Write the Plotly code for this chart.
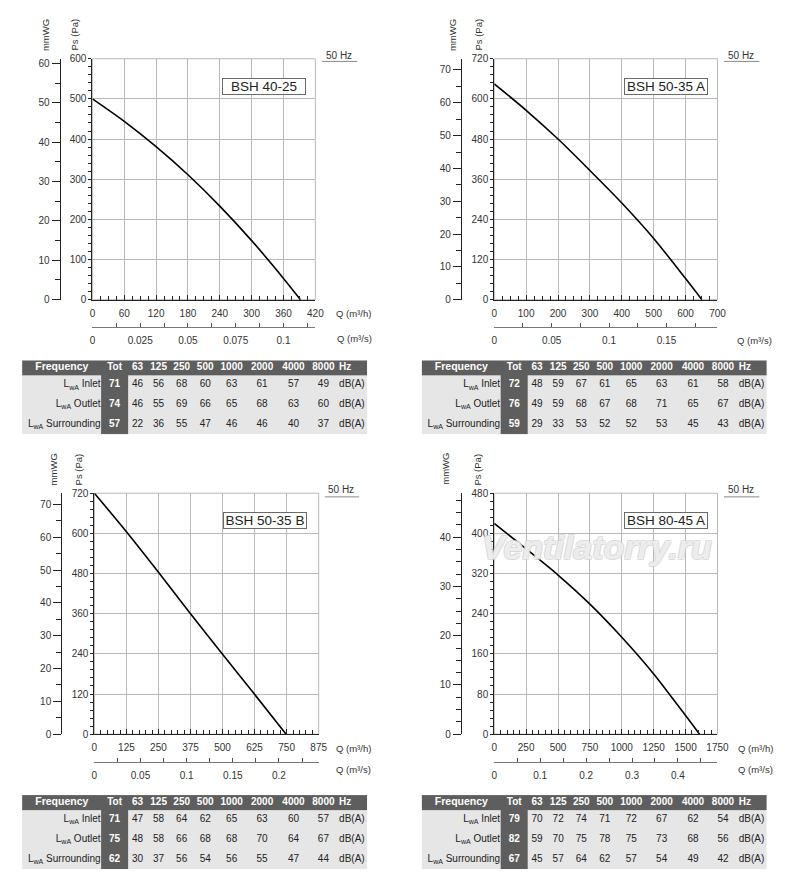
import plotly.graph_objects as go

# Fan curves: Q in m3/h, Ps in Pa
models = ["BSH 40-25", "BSH 50-35 A", "BSH 50-35 B", "BSH 80-45 A"]

q_40_25 = [0, 60, 120, 180, 240, 300, 360, 392]
ps_40_25 = [500, 444, 381, 311, 233, 147, 53, 0]

q_50_35a = [0, 100, 200, 300, 400, 500, 600, 651]
ps_50_35a = [645, 566, 480, 386, 289, 183, 63, 0]

q_50_35b = [0, 125, 250, 375, 500, 625, 748]
ps_50_35b = [720, 605, 484, 360, 239, 119, 0]

q_80_45a = [0, 250, 500, 750, 1000, 1250, 1500, 1609]
ps_80_45a = [420, 369, 317, 259, 193, 120, 37, 0]

# Sound power tables, dB(A)
bands = ["63", "125", "250", "500", "1000", "2000", "4000", "8000"]
row_names = ["L<sub>wA</sub> Inlet", "L<sub>wA</sub> Outlet", "L<sub>wA</sub> Surrounding"]

tot_40_25 = [71, 74, 57]
lwa_40_25 = [[46, 56, 68, 60, 63, 61, 57, 49],
             [46, 55, 69, 66, 65, 68, 63, 60],
             [22, 36, 55, 47, 46, 46, 40, 37]]

tot_50_35a = [72, 76, 59]
lwa_50_35a = [[48, 59, 67, 61, 65, 63, 61, 58],
              [49, 59, 68, 67, 68, 71, 65, 67],
              [29, 33, 53, 52, 52, 53, 45, 43]]

tot_50_35b = [71, 75, 62]
lwa_50_35b = [[47, 58, 64, 62, 65, 63, 60, 57],
              [48, 58, 66, 68, 68, 70, 64, 67],
              [30, 37, 56, 54, 56, 55, 47, 44]]

tot_80_45a = [79, 82, 67]
lwa_80_45a = [[70, 72, 74, 71, 72, 67, 62, 54],
              [59, 70, 75, 78, 75, 73, 68, 56],
              [45, 57, 64, 62, 57, 54, 49, 42]]

# Page geometry / styling. The page body keeps its default 8px margin,
# so the figure is a bit smaller than the window and page coords are offset.
PAGE_OFF = 8
W, H = 782, 878
PA_PER_MMWG = 9.80665
FONT = "Liberation Sans, Arial, Helvetica, sans-serif"
GRID = "#b9b9b9"
INK = "#222222"
TXT = "#333333"
DARK = "#5e5e5e"
LIGHT = "#e6e6e6"


def fx(x):
    return (x - PAGE_OFF) / W


def fy(y):
    return 1 - (y - PAGE_OFF) / H


def ax_key(kind, n):
    return kind if n == 1 else f"{kind}{n}"


def ref(letter, n):
    return letter if n == 1 else f"{letter}{n}"


panels = [
    dict(model=models[0], q=q_40_25, ps=ps_40_25,
         q_max=420, q_step=60, q_minor=15, ps_max=600, ps_step=100, ps_minor=20,
         mm_minor=5, s_step=0.025, s_minor=0.0125,
         plot=(91, 318.3, 53.3, 297.3), mm_x=57.7, s_y=325,
         title_y=29, mm_title_x=43, ps_title_x=73,
         hz=(342, 50, 325, 361, 56), tag=(266, 81),
         qh_title=(337, 311), qs_title=(338, 337)),
    dict(model=models[1], q=q_50_35a, ps=ps_50_35a,
         q_max=700, q_step=100, q_minor=25, ps_max=720, ps_step=120, ps_minor=24,
         mm_minor=5, s_step=0.05, s_minor=0.025,
         plot=(500.7, 728.3, 53.3, 297.3), mm_x=466.7, s_y=325,
         title_y=29, mm_title_x=458, ps_title_x=485,
         hz=(752, 50, 735, 771, 56), tag=(676, 81),
         qh_title=None, qs_title=(746, 339)),
    dict(model=models[2], q=q_50_35b, ps=ps_50_35b,
         q_max=875, q_step=125, q_minor=25, ps_max=720, ps_step=120, ps_minor=24,
         mm_minor=5, s_step=0.05, s_minor=0.025,
         plot=(93, 321.7, 493.3, 737.3), mm_x=59.3, s_y=765,
         title_y=469, mm_title_x=51, ps_title_x=76.5,
         hz=(344.5, 490, 328, 363, 497), tag=(266.7, 521),
         qh_title=(337, 752), qs_title=(337, 773)),
    dict(model=models[3], q=q_80_45a, ps=ps_80_45a,
         q_max=1750, q_step=250, q_minor=50, ps_max=480, ps_step=80, ps_minor=16,
         mm_minor=2.5, s_step=0.1, s_minor=0.05,
         plot=(500.7, 728.3, 493.3, 737.3), mm_x=466.7, s_y=765,
         title_y=469, mm_title_x=451, ps_title_x=483.5,
         hz=(752, 490, 735, 771, 497), tag=(676, 521),
         qh_title=(747, 752), qs_title=(747, 773)),
]

tables = [
    dict(tot=tot_40_25, lwa=lwa_40_25, pos=(19.3, 358.7)),
    dict(tot=tot_50_35a, lwa=lwa_50_35a, pos=(426.7, 358.7)),
    dict(tot=tot_50_35b, lwa=lwa_50_35b, pos=(19.3, 799)),
    dict(tot=tot_80_45a, lwa=lwa_80_45a, pos=(426.7, 799)),
]
COL_EDGES = [0, 81, 107.7, 127.7, 150.7, 174.7, 198.7, 228.7, 260.7, 292.7, 321.7, 352]
ROW_EDGES = [0, 15, 35, 55, 75]

fig = go.Figure()
layout = {}
annotations = []
shapes = []


def note(text, x, y, size=9.5, **kw):
    d = dict(text=text, x=fx(x), y=fy(y), xref="paper", yref="paper",
             xanchor="center", yanchor="middle", showarrow=False,
             font=dict(family=FONT, size=size, color=TXT))
    d.update(kw)
    annotations.append(d)


for i, p in enumerate(panels):
    n = 2 * i + 1
    xa, ya, xs, ys = ref("x", n), ref("y", n), ref("x", n + 1), ref("y", n + 1)
    left, right, top, bottom = p["plot"]

    # Q (m3/h) and Ps (Pa)
    layout[ax_key("xaxis", n)] = dict(
        domain=[fx(left), fx(right)], range=[0, p["q_max"]], anchor=ya,
        tick0=0, dtick=p["q_step"], ticks="inside", ticklen=5, tickcolor=INK,
        showline=True, linecolor=INK, linewidth=1, zeroline=False,
        showgrid=True, gridcolor=GRID, gridwidth=1,
        minor=dict(dtick=p["q_minor"], ticks="inside", ticklen=4, tickcolor=INK, showgrid=False),
        ticklabelstandoff=4, tickfont=dict(size=10, color=TXT), fixedrange=True)
    layout[ax_key("yaxis", n)] = dict(
        domain=[fy(bottom), fy(top)], range=[0, p["ps_max"]], anchor=xa,
        tick0=0, dtick=p["ps_step"], ticks="outside", ticklen=3, tickcolor=INK,
        showline=True, linecolor=INK, linewidth=1, zeroline=False,
        showgrid=True, gridcolor=GRID, gridwidth=1,
        minor=dict(dtick=p["ps_minor"], ticks="outside", ticklen=3, tickcolor=INK, showgrid=False),
        tickfont=dict(size=10, color=TXT), fixedrange=True)

    # Q (m3/s) and mmWG, same scale converted
    layout[ax_key("xaxis", n + 1)] = dict(
        overlaying=xa, anchor="free", position=fy(p["s_y"]), side="bottom",
        range=[0, p["q_max"] / 3600], tick0=0, dtick=p["s_step"],
        ticks="inside", ticklen=4, tickcolor="#555",
        showline=True, linecolor="#777", linewidth=1, showgrid=False, zeroline=False,
        minor=dict(dtick=p["s_minor"], ticks="inside", ticklen=4, tickcolor="#555", showgrid=False),
        ticklabelstandoff=4, tickfont=dict(size=10, color=TXT), fixedrange=True)
    layout[ax_key("yaxis", n + 1)] = dict(
        overlaying=ya, anchor="free", position=fx(p["mm_x"]), side="left",
        range=[0, p["ps_max"] / PA_PER_MMWG], tick0=0, dtick=10,
        ticks="outside", ticklen=8, tickcolor=INK,
        showline=True, linecolor=INK, linewidth=1.2, showgrid=False, zeroline=False,
        minor=dict(dtick=p["mm_minor"], ticks="outside", ticklen=5, tickcolor=INK, showgrid=False),
        tickfont=dict(size=10, color=TXT), fixedrange=True)

    fig.add_trace(go.Scatter(x=p["q"], y=p["ps"], mode="lines",
                             line=dict(color="black", width=1.6, shape="spline", smoothing=0.8),
                             xaxis=xa, yaxis=ya, hoverinfo="skip"))
    fig.add_trace(go.Scatter(x=[], y=[], xaxis=xs, yaxis=ya, hoverinfo="skip"))
    fig.add_trace(go.Scatter(x=[], y=[], xaxis=xa, yaxis=ys, hoverinfo="skip"))

    # plot frame (top / right)
    shapes.append(dict(type="rect", xref=f"{xa} domain", yref=f"{ya} domain",
                       x0=0, x1=1, y0=0, y1=1, line=dict(color=GRID, width=1), layer="below"))

    # axis titles
    note("mmWG", p["mm_title_x"], p["title_y"], textangle=-90)
    note("Ps (Pa)", p["ps_title_x"], p["title_y"], textangle=-90)
    if p["qh_title"]:
        note("Q (m³/h)", p["qh_title"][0], p["qh_title"][1], xanchor="left")
    note("Q (m³/s)", p["qs_title"][0], p["qs_title"][1], xanchor="left")

    # 50 Hz with underline
    hx, hy, ux0, ux1, uy = p["hz"]
    note("50 Hz", hx, hy, size=10)
    shapes.append(dict(type="line", xref="paper", yref="paper",
                       x0=fx(ux0), x1=fx(ux1), y0=fy(uy), y1=fy(uy),
                       line=dict(color="#8a8a8a", width=1)))

    # model tag
    note(p["model"], p["tag"][0], p["tag"][1], size=13.5,
         width=82, height=15, borderpad=0, borderwidth=1,
         bordercolor="#6a6a6a", bgcolor="white",
         font=dict(family=FONT, size=13.5, color=INK))

# watermark on the last panel
note("<b><i>Ventilatorry.ru</i></b>", 605, 548, size=34,
     font=dict(family=FONT, size=34, color="rgba(255,255,255,0.6)",
               shadow="1px 1px 0 #d2d2d2, -1px -1px 0 #d2d2d2, 1px -1px 0 #d2d2d2, -1px 1px 0 #d2d2d2"))

# Tables: heatmap for the cell shading, text traces for the entries
centers = [(a + b) / 2 for a, b in zip(COL_EDGES[:-1], COL_EDGES[1:])]
row_mid = [(a + b) / 2 for a, b in zip(ROW_EDGES[:-1], ROW_EDGES[1:])]
shade = [[1] * 11] + [[0, 1] + [0] * 9 for _ in row_names]
header = ["Frequency", "Tot"] + bands

for j, t in enumerate(tables):
    k = 9 + j
    xt, yt = ref("x", k), ref("y", k)
    tl, tt = t["pos"]
    layout[ax_key("xaxis", k)] = dict(domain=[fx(tl), fx(tl + COL_EDGES[-1])],
                                      range=[0, COL_EDGES[-1]], anchor=yt,
                                      visible=False, fixedrange=True)
    layout[ax_key("yaxis", k)] = dict(domain=[fy(tt + ROW_EDGES[-1]), fy(tt)],
                                      range=[ROW_EDGES[-1], 0], anchor=xt,
                                      visible=False, fixedrange=True)

    fig.add_trace(go.Heatmap(x=COL_EDGES, y=ROW_EDGES, z=shade, zmin=0, zmax=1,
                             colorscale=[[0, LIGHT], [1, DARK]], showscale=False,
                             xaxis=xt, yaxis=yt, hoverinfo="skip"))

    tx, ty, tv, tc, ts = [], [], [], [], []
    for c, h in enumerate(header):
        tx.append(centers[c]); ty.append(row_mid[0])
        tv.append(f"<b>{h}</b>"); tc.append("white"); ts.append(10.5 if c == 0 else 10)
    for r in range(len(row_names)):
        tx.append(centers[1]); ty.append(row_mid[r + 1])
        tv.append(f"<b>{t['tot'][r]}</b>"); tc.append("white"); ts.append(10)
        for c, v in enumerate(t["lwa"][r]):
            tx.append(centers[2 + c]); ty.append(row_mid[r + 1])
            tv.append(str(v)); tc.append(INK); ts.append(10)
    fig.add_trace(go.Scatter(x=tx, y=ty, text=tv, mode="text", textposition="middle center",
                             textfont=dict(family=FONT, size=ts, color=tc),
                             xaxis=xt, yaxis=yt, hoverinfo="skip"))

    fig.add_trace(go.Scatter(x=[COL_EDGES[1] - 1] * len(row_names), y=row_mid[1:], text=row_names,
                             mode="text", textposition="middle left",
                             textfont=dict(family=FONT, size=10, color=INK),
                             xaxis=xt, yaxis=yt, hoverinfo="skip"))

    unit_txt = ["<b>Hz</b>"] + ["dB(A)"] * len(row_names)
    fig.add_trace(go.Scatter(x=[COL_EDGES[10] + 1.5] * len(unit_txt), y=row_mid, text=unit_txt,
                             mode="text", textposition="middle right",
                             textfont=dict(family=FONT, size=10,
                                           color=["white"] + [INK] * len(row_names)),
                             xaxis=xt, yaxis=yt, hoverinfo="skip"))

fig.update_layout(**layout)
fig.update_layout(width=W, height=H, margin=dict(l=0, r=0, t=0, b=0),
                  paper_bgcolor="white", plot_bgcolor="rgba(0,0,0,0)",
                  showlegend=False, hovermode=False,
                  font=dict(family=FONT, size=10, color=TXT),
                  annotations=annotations, shapes=shapes)

fig.write_html("out.html")
